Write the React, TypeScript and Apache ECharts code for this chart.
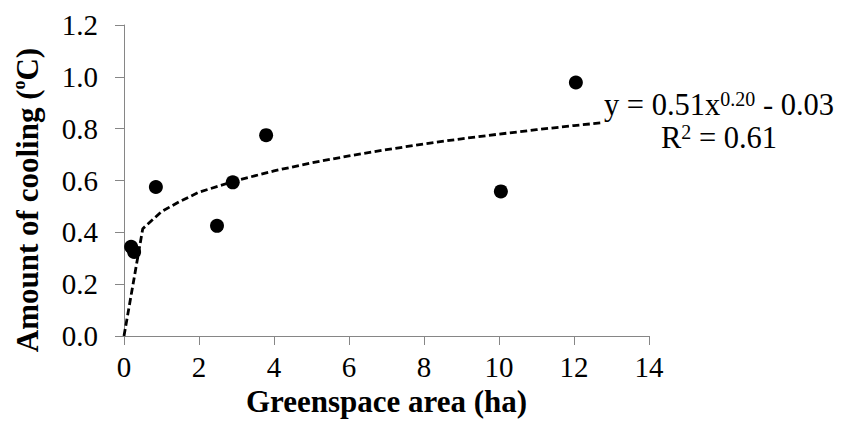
import React, { useEffect, useRef } from "react";
import * as echarts from "echarts";

const observedPoints: [number, number][] = [
  [0.19, 0.344],
  [0.27, 0.324],
  [0.85, 0.575],
  [2.48, 0.425],
  [2.9, 0.593],
  [3.79, 0.775],
  [10.05, 0.558],
  [12.05, 0.978],
];

const trendPoints: [number, number][] = [
  [0, 0],
  [0.5, 0.414],
  [1, 0.48],
  [1.5, 0.52],
  [2, 0.555],
  [3, 0.6],
  [4, 0.637],
  [5, 0.668],
  [6, 0.695],
  [7, 0.719],
  [8, 0.741],
  [9, 0.761],
  [10, 0.779],
  [11, 0.796],
  [12, 0.812],
  [12.7, 0.822],
];

const xTicks = [0, 2, 4, 6, 8, 10, 12, 14];
const yTicks = [0, 0.2, 0.4, 0.6, 0.8, 1.0, 1.2];

const FONT = "'Liberation Serif', 'Times New Roman', serif";

export default function App() {
  const ref = useRef<HTMLDivElement>(null);
  useEffect(() => {
    if (!ref.current) return;
    const chart = echarts.init(ref.current, undefined, { renderer: "svg" });
    chart.setOption({
      animation: false,
      backgroundColor: "#fff",
      grid: { left: 124, right: 196, top: 25, bottom: 92 },
      xAxis: {
        type: "value",
        min: xTicks[0],
        max: xTicks[xTicks.length - 1],
        interval: 2,
        name: "Greenspace area (ha)",
        nameLocation: "middle",
        nameGap: 47,
        nameTextStyle: { fontFamily: FONT, fontSize: 31, fontWeight: "bold", color: "#000" },
        axisLine: { lineStyle: { color: "#868686", width: 1 } },
        axisTick: { show: true, length: 9, lineStyle: { color: "#868686" } },
        axisLabel: { fontFamily: FONT, fontSize: 29, color: "#000", margin: 16 },
        splitLine: { show: false },
      },
      yAxis: {
        type: "value",
        min: yTicks[0],
        max: yTicks[yTicks.length - 1],
        interval: 0.2,
        axisLine: { show: true, lineStyle: { color: "#868686", width: 1 } },
        axisTick: { show: true, length: 9, lineStyle: { color: "#868686" } },
        axisLabel: {
          fontFamily: FONT,
          fontSize: 29,
          color: "#000",
          margin: 26,
          formatter: (v: number) => v.toFixed(1),
        },
        splitLine: { show: false },
      },
      graphic: [
        {
          type: "text",
          x: 27,
          y: 200,
          rotation: Math.PI / 2,
          style: {
            text: "{a|Amount of cooling (}{s|o}{a|C)}",
            align: "center",
            verticalAlign: "middle",
            rich: {
              a: { fontFamily: FONT, fontSize: 31, fontWeight: "bold", fill: "#000", lineHeight: 34 },
              s: { fontFamily: FONT, fontSize: 18, fontWeight: "bold", fill: "#000", lineHeight: 18, verticalAlign: "top" },
            },
          },
        },
        {
          type: "text",
          x: 719,
          y: 105,
          style: {
            text: "{a|y = 0.51x}{s|0.20}{a| - 0.03}",
            align: "center",
            verticalAlign: "middle",
            rich: {
              a: { fontFamily: FONT, fontSize: 30.5, fill: "#000", lineHeight: 32 },
              s: { fontFamily: FONT, fontSize: 20, fill: "#000", lineHeight: 20, verticalAlign: "top" },
            },
          },
        },
        {
          type: "text",
          x: 719,
          y: 138,
          style: {
            text: "{a|R}{s|2}{a| = 0.61}",
            align: "center",
            verticalAlign: "middle",
            rich: {
              a: { fontFamily: FONT, fontSize: 30.5, fill: "#000", lineHeight: 32 },
              s: { fontFamily: FONT, fontSize: 20, fill: "#000", lineHeight: 20, verticalAlign: "top" },
            },
          },
        },
      ],
      series: [
        {
          type: "line",
          data: trendPoints,
          smooth: false,
          showSymbol: false,
          symbol: "none",
          lineStyle: { color: "#000", width: 2.8, type: [7, 3.5] },
          z: 2,
        },
        {
          type: "scatter",
          data: observedPoints,
          symbol: "circle",
          symbolSize: 14,
          itemStyle: { color: "#000", opacity: 1 },
          z: 3,
        },
      ],
    });
    return () => chart.dispose();
  }, []);
  return <div ref={ref} style={{ width: 845, height: 428, position: "fixed", left: 0, top: 0 }} />;
}
